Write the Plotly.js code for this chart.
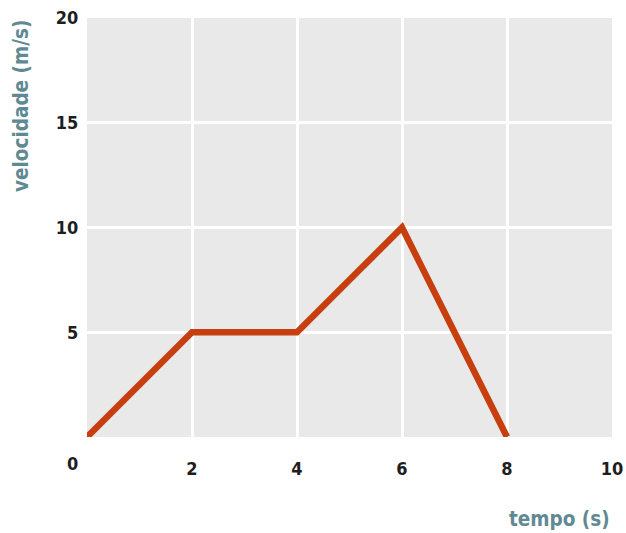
<!DOCTYPE html>
<html>
<head>
<meta charset="utf-8">
<script src="https://cdn.plot.ly/plotly-3.0.1.min.js"></script>
<style>
html,body{margin:0;padding:0;background:#fff;}
#chart{width:626px;height:533px;}
#chart text{font-stretch:condensed !important;}
</style>
</head>
<body>
<div id="chart"></div>
<script>
const tempo = [0, 2, 4, 6, 8];
const velocidade = [0, 5, 5, 10, 0];
const xTicks = [2, 4, 6, 8, 10];
const yTicks = [5, 10, 15, 20];
const xTitle = "tempo (s)";
const yTitle = "velocidade (m/s)";

const FONT = '"DejaVu Sans Condensed", "DejaVu Sans", sans-serif';
const TITLE_COLOR = '#5f8a93';
const tickFont = {family: FONT, size: 18, color: '#1e1e1e', weight: 'bold'};
const titleFont = {family: FONT, size: 20.5, color: TITLE_COLOR, weight: 'bold'};

const trace = {
  x: tempo, y: velocidade, type: 'scatter', mode: 'lines',
  line: {color: '#c73f0e', width: 6.5, shape: 'linear'},
  hoverinfo: 'skip', cliponaxis: false
};

const layout = {
  width: 626, height: 533,
  margin: {l: 87, r: 14, t: 18, b: 96},
  paper_bgcolor: '#ffffff',
  plot_bgcolor: '#e9e9e9',
  showlegend: false,
  font: {family: FONT, size: 18, color: '#1e1e1e'},
  xaxis: {
    range: [0, 10], tickvals: xTicks, ticktext: xTicks.map(String),
    showgrid: true, gridcolor: '#ffffff', gridwidth: 3,
    zeroline: false, showline: false,
    ticks: 'outside', ticklen: 15, tickcolor: 'rgba(0,0,0,0)',
    tickfont: tickFont,
    fixedrange: true
  },
  yaxis: {
    range: [0, 20], tickvals: yTicks, ticktext: yTicks.map(String),
    showgrid: true, gridcolor: '#ffffff', gridwidth: 3,
    zeroline: false, showline: false,
    ticks: 'outside', ticklen: 4, tickcolor: 'rgba(0,0,0,0)',
    tickfont: tickFont,
    fixedrange: true
  },
  annotations: [
    {text: '0', xref: 'paper', yref: 'paper', x: -0.028, y: 0, yshift: -26,
     xanchor: 'center', yanchor: 'middle', showarrow: false,
     font: tickFont},
    {text: yTitle, xref: 'paper', yref: 'paper', x: 0, xshift: -66, y: 1,
     xanchor: 'center', yanchor: 'top', textangle: -90, showarrow: false,
     font: titleFont},
    {text: xTitle, xref: 'paper', yref: 'paper', x: 1, y: 0, yshift: -82,
     xanchor: 'right', yanchor: 'middle', showarrow: false,
     font: titleFont}
  ]
};

Plotly.newPlot('chart', [trace], layout, {displayModeBar: false, staticPlot: true});
</script>
</body>
</html>
